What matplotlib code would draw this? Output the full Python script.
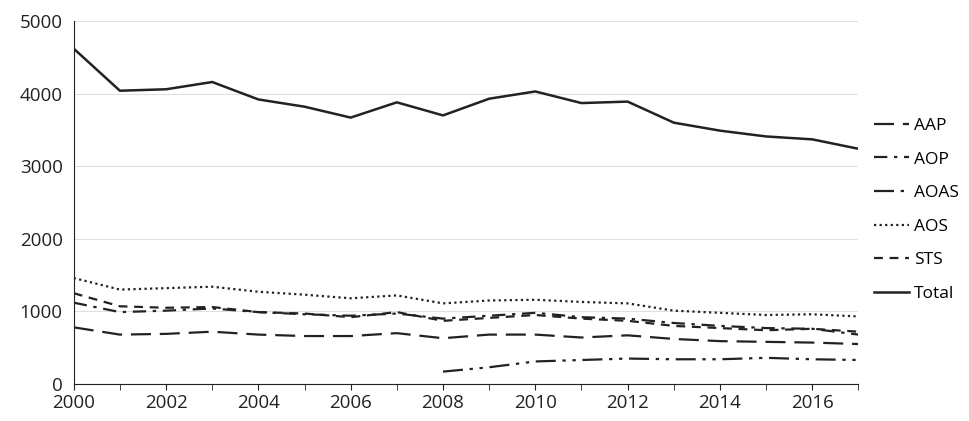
import numpy as np
import matplotlib.pyplot as plt

years = np.arange(2000, 2018)
nan = np.nan
aap = [780, 680, 690, 720, 680, 660, 660, 700, 630, 680, 680, 640, 670, 620, 590, 580, 570, 550]
aop = [1120, 990, 1010, 1040, 990, 960, 940, 970, 900, 940, 980, 920, 900, 840, 800, 770, 760, 680]
aoas = [nan] * 8 + [170, 230, 310, 330, 350, 340, 340, 360, 340, 330]
aos = [1460, 1300, 1320, 1340, 1270, 1230, 1180, 1220, 1110, 1150, 1160, 1130, 1110, 1010, 980, 950, 960, 930]
sts = [1250, 1070, 1050, 1060, 990, 970, 920, 990, 870, 910, 950, 900, 870, 800, 770, 740, 760, 720]
total = [4620, 4040, 4060, 4160, 3920, 3820, 3670, 3880, 3700, 3930, 4030, 3870, 3890, 3600, 3490, 3410, 3370, 3240]

plt.rcParams['font.family'] = ['Open Sans', 'DejaVu Sans']
fig, ax = plt.subplots(figsize=(9.7, 4.21), dpi=100)
plt.subplots_adjust(left=0.076, right=0.885, bottom=0.088, top=0.95)

c = '#222222'
ax.plot(years, aap, color=c, lw=1.6, dashes=(9, 4), label='AAP')
ax.plot(years, aop, color=c, lw=1.6, dashes=(6, 3, 1.5, 3), label='AOP')
ax.plot(years, aoas, color=c, lw=1.6, dashes=(9, 3, 1.5, 3, 1.5, 3), label='AOAS')
ax.plot(years, aos, color=c, lw=1.6, dashes=(1, 1.5), label='AOS')
ax.plot(years, sts, color=c, lw=1.6, dashes=(4, 3), label='STS')
ax.plot(years, total, color=c, lw=1.8, label='Total')

ax.set_xlim(2000, 2017)
ax.set_ylim(0, 5000)
ax.set_xticks(range(2000, 2018, 2))
ax.set_xticks(range(2000, 2018), minor=True)
ax.set_yticks(range(0, 5001, 1000))
ax.yaxis.grid(True, color='#e0e0e0', lw=0.8)
ax.set_axisbelow(True)
for s in ['top', 'right']:
    ax.spines[s].set_visible(False)
ax.spines['left'].set_color(c)
ax.spines['bottom'].set_color(c)
ax.tick_params(axis='y', length=0, labelsize=13.5, colors=c, pad=8)
ax.tick_params(axis='x', which='both', direction='out', length=4, labelsize=13.5, colors=c, pad=3)

ax.legend(loc='center left', bbox_to_anchor=(1.0, 0.48), frameon=False, fontsize=12.5,
          handlelength=2.0, handletextpad=0.3, labelspacing=1.0)

plt.savefig('out.png', dpi=100)
